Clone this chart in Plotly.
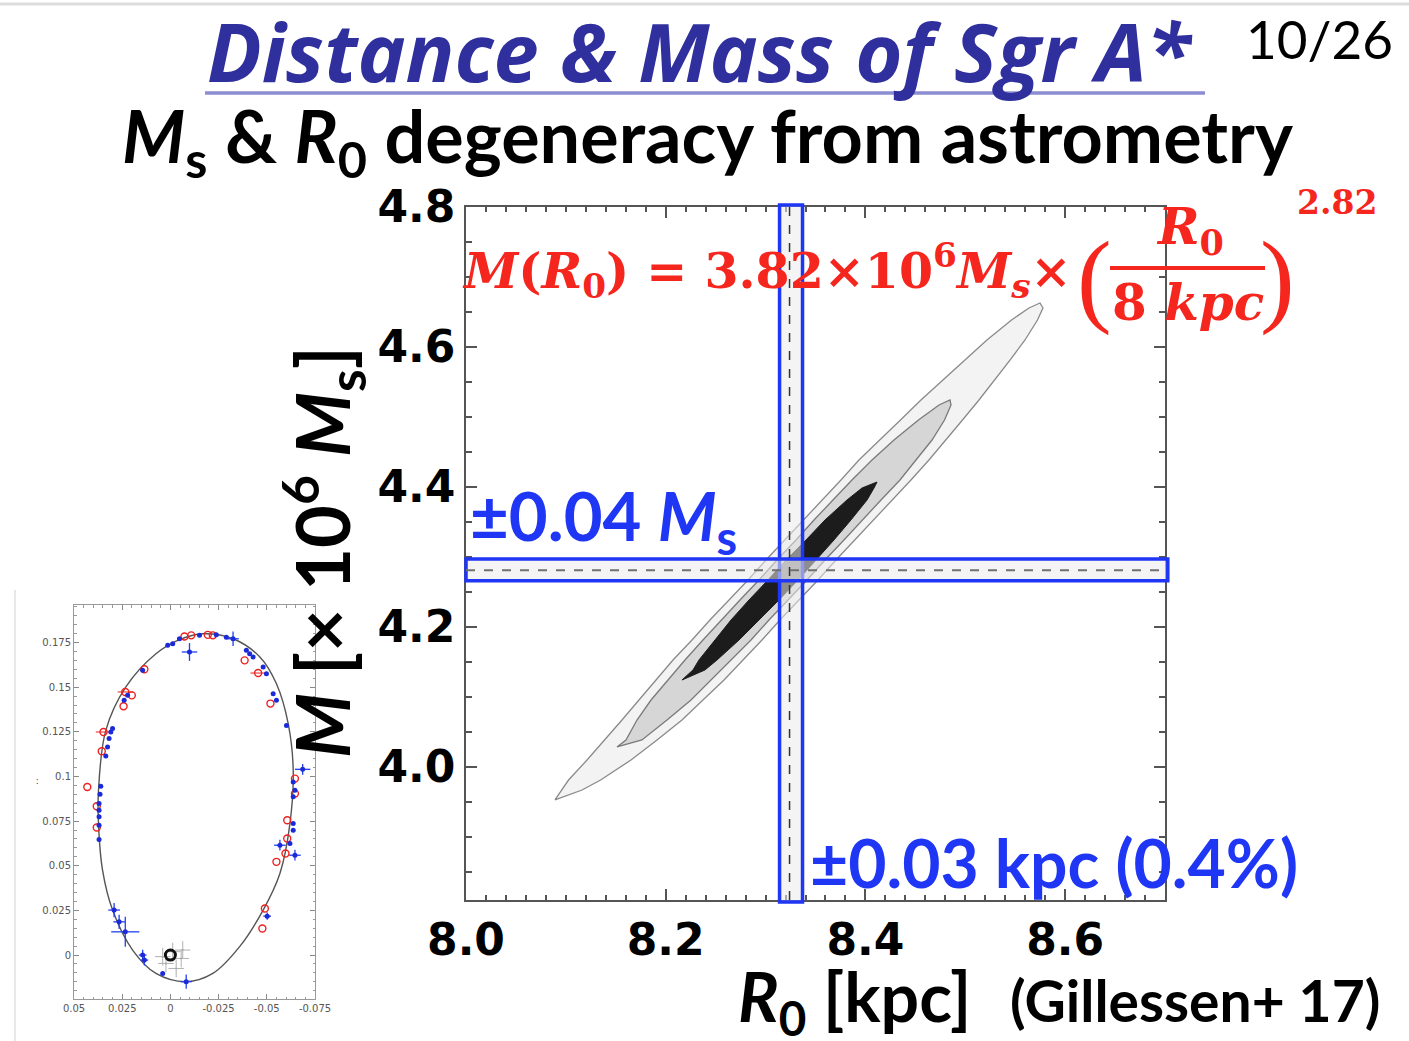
import plotly.graph_objects as go

W, H = 1409, 1041

# ---------------- main panel data ----------------
R0_best = 8.324
R0_band = (8.314, 8.337)
M_best = 4.281
M_band = (4.266, 4.297)

# 3-sigma contour (outer, very light grey)
c3_R = [8.0891, 8.0961, 8.1027, 8.1212, 8.1392, 8.1562, 8.1732, 8.1903, 8.2073, 8.2263,
        8.2443, 8.2634, 8.2824, 8.3004, 8.3194, 8.3375, 8.3565, 8.3755, 8.3935, 8.4146,
        8.4351, 8.4556, 8.4777, 8.4987, 8.5217, 8.5463, 8.5638, 8.5748,
        8.5778, 8.5723, 8.5598, 8.5448, 8.5297, 8.5137, 8.4972, 8.4807, 8.4636, 8.4456,
        8.4266, 8.4076, 8.3895, 8.3705, 8.3525, 8.3335, 8.3144, 8.2964, 8.2774, 8.2584,
        8.2373, 8.2163, 8.1913, 8.1652, 8.1348, 8.1162, 8.0891]
c3_M = [3.9529, 3.9671, 3.9814, 4.0100, 4.0386, 4.0671, 4.0957, 4.1243, 4.1529, 4.1814,
        4.2100, 4.2386, 4.2671, 4.2957, 4.3243, 4.3529, 4.3814, 4.4100, 4.4386, 4.4671,
        4.4957, 4.5243, 4.5529, 4.5814, 4.6100, 4.6386, 4.6557, 4.6629,
        4.6557, 4.6386, 4.6100, 4.5814, 4.5529, 4.5243, 4.4957, 4.4671, 4.4386, 4.4100,
        4.3814, 4.3529, 4.3243, 4.2957, 4.2671, 4.2386, 4.2100, 4.1814, 4.1529, 4.1243,
        4.0957, 4.0671, 4.0386, 4.0100, 3.9814, 3.9671, 3.9529]

# 2-sigma contour (grey)
c2_R = [8.1512, 8.1602, 8.1712, 8.1853, 8.2023, 8.2193, 8.2373, 8.2554, 8.2744, 8.2934,
        8.3114, 8.3305, 8.3485, 8.3675, 8.3865, 8.4066, 8.4286, 8.4531, 8.4737, 8.4847,
        8.4857, 8.4792, 8.4667, 8.4506, 8.4346, 8.4156, 8.3966, 8.3785, 8.3595, 8.3415,
        8.3225, 8.3034, 8.2854, 8.2654, 8.2463, 8.2253, 8.2013, 8.1762, 8.1512]
c2_M = [4.0286, 4.0386, 4.0671, 4.0957, 4.1243, 4.1529, 4.1814, 4.2100, 4.2386, 4.2671,
        4.2957, 4.3243, 4.3529, 4.3814, 4.4100, 4.4386, 4.4671, 4.4957, 4.5171, 4.5243,
        4.5171, 4.4957, 4.4671, 4.4386, 4.4100, 4.3814, 4.3529, 4.3243, 4.2957, 4.2671,
        4.2386, 4.2100, 4.1814, 4.1529, 4.1243, 4.0957, 4.0671, 4.0386, 4.0286]

# 1-sigma contour (black)
c1_R = [8.2163, 8.2273, 8.2333, 8.2494, 8.2654, 8.2834, 8.3024, 8.3204, 8.3405, 8.3595,
        8.3815, 8.3966, 8.4116, 8.4086, 8.4016, 8.3855, 8.3685, 8.3505, 8.3325, 8.3134,
        8.2934, 8.2734, 8.2514, 8.2393, 8.2163]
c1_M = [4.1243, 4.1386, 4.1529, 4.1814, 4.2100, 4.2386, 4.2671, 4.2957, 4.3243, 4.3529,
        4.3814, 4.3986, 4.4071, 4.3986, 4.3814, 4.3529, 4.3243, 4.2957, 4.2671, 4.2386,
        4.2100, 4.1814, 4.1529, 4.1386, 4.1243]

x_ticks = [8.0, 8.2, 8.4, 8.6]
x_ticklabels = ["8.0", "8.2", "8.4", "8.6"]
y_ticks = [4.0, 4.2, 4.4, 4.6, 4.8]
y_ticklabels = ["4.0", "4.2", "4.4", "4.6", "4.8"]

# ---------------- inset (S2 orbit) data ----------------
orbit_x = [0.0373, 0.0335, 0.0231, 0.0075, -0.0047, -0.0168, -0.0325, -0.0464, -0.0550, -0.0611,
           -0.0637, -0.0620, -0.0568, -0.0481, -0.0359, -0.0220, -0.0082, 0.0075, 0.0196, 0.0300,
           0.0352, 0.0373, 0.0373]
orbit_y = [0.0923, 0.1258, 0.1501, 0.1687, 0.1766, 0.1799, 0.1771, 0.1669, 0.1519, 0.1296,
           0.1035, 0.0736, 0.0457, 0.0252, 0.0047, -0.0103, -0.0149, -0.0103, 0.0028, 0.0252,
           0.0475, 0.0736, 0.0923]

red_x = [0.0431, 0.0382, 0.0382, 0.0356, 0.0347, 0.0243, 0.0234, 0.0200, 0.0135, -0.0073,
         -0.0108, -0.0194, -0.0220, -0.0385, -0.0455, -0.0519, -0.0646, -0.0646, -0.0606, -0.0606,
         -0.0597, -0.0550, -0.0490, -0.0477]
red_y = [0.0941, 0.0833, 0.0714, 0.1141, 0.1249, 0.1393, 0.1473, 0.1454, 0.1600, 0.1784,
         0.1790, 0.1793, 0.1790, 0.1650, 0.1579, 0.1408, 0.0988, 0.0904, 0.0755, 0.0653,
         0.0569, 0.0522, 0.0261, 0.0149]
red_ex = [0.0, 0.0, 0.0, 0.0, 0.004, 0.0, 0.004, 0.0, 0.0, 0.0,
          0.0, 0.0, 0.0, 0.0, 0.004, 0.0, 0.0, 0.0, 0.0, 0.0,
          0.0, 0.0, 0.0, 0.0]

blue_x = [0.0361, 0.0365, 0.0370, 0.0370, 0.0370, 0.0370, 0.0370,
          0.0335, 0.0326, 0.0318, 0.0309, 0.0300,
          0.0240, 0.0222, 0.0144,
          0.0014, -0.0012, -0.0047, -0.0099, -0.0151, -0.0238, -0.0290, -0.0325,
          -0.0394, -0.0411, -0.0429, -0.0481, -0.0498, -0.0533, -0.0550, -0.0602,
          -0.0637, -0.0646, -0.0637, -0.0637, -0.0637, -0.0620, -0.0568, -0.0646, -0.0686,
          -0.0502, 0.0292, 0.0266, 0.0234, 0.0144, 0.0135, 0.0040, -0.0082]
blue_y = [0.0945, 0.0900, 0.0848, 0.0811, 0.0774, 0.0727, 0.0647,
          0.1115, 0.1165, 0.1212, 0.1249, 0.1268,
          0.1426, 0.1454, 0.1594,
          0.1734, 0.1743, 0.1771, 0.1697, 0.1790, 0.1793, 0.1780, 0.1771,
          0.1706, 0.1687, 0.1669, 0.1613, 0.1575, 0.1463, 0.1426, 0.1286,
          0.0969, 0.0923, 0.0886, 0.0736, 0.0699, 0.0625, 0.0615, 0.0559, 0.1040,
          0.0218, 0.0252, 0.0186, 0.0130, 0.0000, -0.0028, -0.0103, -0.0149]
blue_ex = [0.0, 0.0, 0.0, 0.0, 0.0, 0.0, 0.0,
           0.0, 0.0, 0.0, 0.0, 0.0,
           0.0, 0.0, 0.0,
           0.0, 0.0, 0.0, 0.004, 0.0, 0.0, 0.0, 0.003,
           0.0, 0.0, 0.0, 0.0, 0.0, 0.0, 0.0, 0.0,
           0.0, 0.0, 0.0, 0.0, 0.0, 0.0, 0.003, 0.003, 0.004,
           0.002, 0.003, 0.003, 0.0073, 0.002, 0.002, 0.0, 0.003]
blue_ey = [0.0, 0.0, 0.0, 0.0, 0.0, 0.0, 0.0,
           0.0, 0.0, 0.0, 0.0, 0.0,
           0.0, 0.0, 0.0,
           0.0, 0.0, 0.0, 0.005, 0.0, 0.0, 0.0, 0.004,
           0.0, 0.0, 0.0, 0.0, 0.0, 0.0, 0.0, 0.0,
           0.0, 0.0, 0.0, 0.0, 0.0, 0.0, 0.003, 0.003, 0.003,
           0.002, 0.004, 0.004, 0.0084, 0.003, 0.003, 0.0, 0.004]

flare_x = [0.0040, -0.0012, -0.0064, -0.0030, 0.0023, -0.0056]
flare_y = [-0.0009, 0.0019, 0.0028, -0.0075, -0.0047, -0.0019]
sgr_x = [0.0]
sgr_y = [0.0]

inset_xticks = [0.05, 0.025, 0.0, -0.025, -0.05, -0.075]
inset_xticklabels = ["0.05", "0.025", "0", "-0.025", "-0.05", "-0.075"]
inset_yticks = [0.0, 0.025, 0.05, 0.075, 0.1, 0.125, 0.15, 0.175]
inset_yticklabels = ["0", "0.025", "0.05", "0.075", "0.1", "0.125", "0.15", "0.175"]

# ---------------- figure ----------------
fig = go.Figure()

fig.add_trace(go.Scatter(x=c3_R, y=c3_M, mode="lines", fill="toself",
                         fillcolor="#f3f3f3", line=dict(color="#8a8a8a", width=1.3),
                         hoverinfo="skip", xaxis="x", yaxis="y"))
fig.add_trace(go.Scatter(x=c2_R, y=c2_M, mode="lines", fill="toself",
                         fillcolor="#d6d6d6", line=dict(color="#7a7a7a", width=1.3),
                         hoverinfo="skip", xaxis="x", yaxis="y"))
fig.add_trace(go.Scatter(x=c1_R, y=c1_M, mode="lines", fill="toself",
                         fillcolor="#1c1c1c", line=dict(color="#1c1c1c", width=1),
                         hoverinfo="skip", xaxis="x", yaxis="y"))

# inset traces
fig.add_trace(go.Scatter(x=orbit_x, y=orbit_y, mode="lines",
                         line=dict(color="#555555", width=1.4, shape="spline", smoothing=1.0),
                         hoverinfo="skip", xaxis="x2", yaxis="y2"))
fig.add_trace(go.Scatter(x=flare_x, y=flare_y, mode="markers",
                         marker=dict(size=2, color="#aaaaaa"),
                         error_x=dict(type="data", array=[0.004] * len(flare_x), color="#b0b0b0", thickness=1, width=0),
                         error_y=dict(type="data", array=[0.005] * len(flare_y), color="#b0b0b0", thickness=1, width=0),
                         hoverinfo="skip", xaxis="x2", yaxis="y2"))
fig.add_trace(go.Scatter(x=red_x, y=red_y, mode="markers",
                         marker=dict(symbol="circle-open", size=7, color="#ee2020", line=dict(width=1.4)),
                         error_x=dict(type="data", array=red_ex, color="#ee2020", thickness=1, width=0),
                         hoverinfo="skip", xaxis="x2", yaxis="y2"))
fig.add_trace(go.Scatter(x=blue_x, y=blue_y, mode="markers",
                         marker=dict(symbol="circle", size=5, color="#1a2ad8"),
                         error_x=dict(type="data", array=blue_ex, color="#2040f0", thickness=1.3, width=0),
                         error_y=dict(type="data", array=blue_ey, color="#2040f0", thickness=1.3, width=0),
                         hoverinfo="skip", xaxis="x2", yaxis="y2"))
fig.add_trace(go.Scatter(x=sgr_x, y=sgr_y, mode="markers",
                         marker=dict(symbol="circle-open", size=10, color="#111111", line=dict(width=3)),
                         hoverinfo="skip", xaxis="x2", yaxis="y2"))

tickc = "#555555"
fig.update_layout(
    width=W, height=H, margin=dict(l=0, r=0, t=0, b=0, autoexpand=False),
    paper_bgcolor="white", plot_bgcolor="white", showlegend=False,
    xaxis=dict(domain=[466 / W, 1165 / W], range=[8.0, 8.7], tickvals=x_ticks, ticktext=x_ticklabels,
               ticks="inside", ticklen=11, tickwidth=1.5, tickcolor=tickc, showline=True, linecolor=tickc,
               linewidth=1.5, mirror="allticks", showgrid=False, zeroline=False, automargin=False,
               minor=dict(dtick=0.02, tick0=8.0, ticks="inside", ticklen=5, tickcolor=tickc, showgrid=False),
               tickfont=dict(family="DejaVu Sans", size=44, color="black", weight="bold"), anchor="y"),
    yaxis=dict(domain=[1 - 900 / H, 1 - 207 / H], range=[3.81, 4.8], tickvals=y_ticks, ticktext=y_ticklabels,
               ticks="inside", ticklen=11, tickwidth=1.5, tickcolor=tickc, showline=True, linecolor=tickc,
               linewidth=1.5, mirror="allticks", showgrid=False, zeroline=False, automargin=False,
               ticklabelstandoff=0,
               minor=dict(dtick=0.05, tick0=4.0, ticks="inside", ticklen=6, tickcolor=tickc, showgrid=False),
               tickfont=dict(family="DejaVu Sans", size=44, color="black", weight="bold"), anchor="x"),
    xaxis2=dict(domain=[74 / W, 315 / W], range=[0.05, -0.075], tickvals=inset_xticks, ticktext=inset_xticklabels,
                ticks="inside", ticklen=5, tickcolor="#888", showline=True, linecolor="#999", linewidth=1,
                mirror="allticks", showgrid=False, zeroline=False, automargin=False,
                minor=dict(dtick=0.005, ticks="inside", ticklen=2.5, tickcolor="#999"),
                tickfont=dict(family="DejaVu Sans", size=10, color="#555"), anchor="y2"),
    yaxis2=dict(domain=[1 - 999 / H, 1 - 605 / H], range=[-0.0246, 0.196], tickvals=inset_yticks,
                ticktext=inset_yticklabels, ticks="inside", ticklen=5, tickcolor="#888", showline=True,
                linecolor="#999", linewidth=1, mirror="allticks", showgrid=False, zeroline=False, automargin=False,
                minor=dict(dtick=0.005, ticks="inside", ticklen=2.5, tickcolor="#999"),
                tickfont=dict(family="DejaVu Sans", size=10, color="#555"), anchor="x2"),
)

# --------- bands (uncertainty boxes) ---------
blue = "#1f36f5"
fig.add_shape(type="rect", xref="x", yref="y domain", x0=R0_band[0], x1=R0_band[1], y0=-0.003, y1=1.003,
              line=dict(color=blue, width=3.5), fillcolor="rgba(235,235,235,0.55)", layer="above")
fig.add_shape(type="rect", xref="x domain", yref="y", x0=0, x1=1.004, y0=M_band[0], y1=M_band[1],
              line=dict(color=blue, width=3.5), fillcolor="rgba(235,235,235,0.55)", layer="above")
fig.add_shape(type="line", xref="x", yref="y domain", x0=R0_best, x1=R0_best, y0=0, y1=1,
              line=dict(color="#333333", width=1.5, dash="dash"), layer="above")
fig.add_shape(type="line", xref="x domain", yref="y", x0=0, x1=1, y0=M_best, y1=M_best,
              line=dict(color="#707070", width=2, dash="dash"), layer="above")


def P(x, y):
    return dict(x=x / W, y=1 - y / H, xref="paper", yref="paper", showarrow=False)


# slide decorations
fig.add_shape(type="line", xref="paper", yref="paper", x0=0, x1=1, y0=1 - 4 / H, y1=1 - 4 / H,
              line=dict(color="#dddddd", width=3))
fig.add_shape(type="line", xref="paper", yref="paper", x0=15 / W, x1=15 / W, y0=0, y1=1 - 590 / H,
              line=dict(color="#e0e0e0", width=1.5))
fig.add_shape(type="line", xref="paper", yref="paper", x0=205 / W, x1=1205 / W, y0=1 - 93 / H, y1=1 - 93 / H,
              line=dict(color="#8c8cd2", width=3.5))
# fraction bar of formula
red = "#f5261e"
fig.add_shape(type="line", xref="paper", yref="paper", x0=1110 / W, x1=1265 / W, y0=1 - 268 / H, y1=1 - 268 / H,
              line=dict(color=red, width=4))

sans = "Lato"
serif = "DejaVu Serif"
ann = [
    dict(**P(205, 50), text="<b><i>Distance &amp; Mass of Sgr A*</i></b>", xanchor="left", yanchor="middle",
         font=dict(family="Open Sans", size=81, color="#2f2f9e")),
    dict(**P(1244, 38), text="10/26", xanchor="left", yanchor="middle",
         font=dict(family=sans, size=53, color="black")),
    dict(**P(120, 140), text="<b><i>M</i><sub>s</sub> &amp; <i>R</i><sub>0</sub> degeneracy from astrometry</b>",
         xanchor="left", yanchor="middle", font=dict(family=sans, size=72, color="black")),
    dict(**P(460, 270), text="<b><i>M</i>(<i>R</i><sub>0</sub>) = 3.82×10<sup>6</sup><i>M<sub>s</sub></i>×</b>",
         xanchor="left", yanchor="middle", font=dict(family=serif, size=49, color=red)),
    dict(**P(1094, 278), text="(", xanchor="center", yanchor="middle",
         font=dict(family="Liberation Serif", size=104, color=red)),
    dict(**P(1190, 230), text="<b><i>R</i><sub>0</sub></b>", xanchor="center", yanchor="middle",
         font=dict(family=serif, size=50, color=red)),
    dict(**P(1188, 302), text="<b>8 <i>kpc</i></b>", xanchor="center", yanchor="middle",
         font=dict(family=serif, size=50, color=red)),
    dict(**P(1277, 278), text=")", xanchor="center", yanchor="middle",
         font=dict(family="Liberation Serif", size=104, color=red)),
    dict(**P(1295, 202), text="<b>2.82</b>", xanchor="left", yanchor="middle",
         font=dict(family=serif, size=33, color=red)),
    dict(**P(468, 520), text="<b>±0.04 <i>M</i><sub>s</sub></b>", xanchor="left", yanchor="middle",
         font=dict(family=sans, size=67, color=blue)),
    dict(**P(808, 862), text="<b>±0.03 kpc (0.4%)</b>", xanchor="left", yanchor="middle",
         font=dict(family=sans, size=66, color=blue)),
    dict(**P(322, 552), text="<b><i>M</i> [× 10<sup>6</sup> <i>M</i><sub>s</sub>]</b>", textangle=-90,
         xanchor="center", yanchor="middle", font=dict(family=sans, size=74, color="black")),
    dict(**P(855, 1000), text="<b><i>R</i><sub>0</sub> [kpc]</b>", xanchor="center", yanchor="middle",
         font=dict(family=sans, size=68, color="black")),
    dict(**P(1008, 1000), text="<b>(Gillessen+ 17)</b>", xanchor="left", yanchor="middle",
         font=dict(family=sans, size=57, color="black")),
    dict(**P(37, 780), text=":", xanchor="center", yanchor="middle",
         font=dict(family=sans, size=10, color="#555")),
]
fig.update_layout(annotations=ann)

fig.write_html("out.html", config={"displayModeBar": False},
               post_script="document.body.style.margin='0px';")
